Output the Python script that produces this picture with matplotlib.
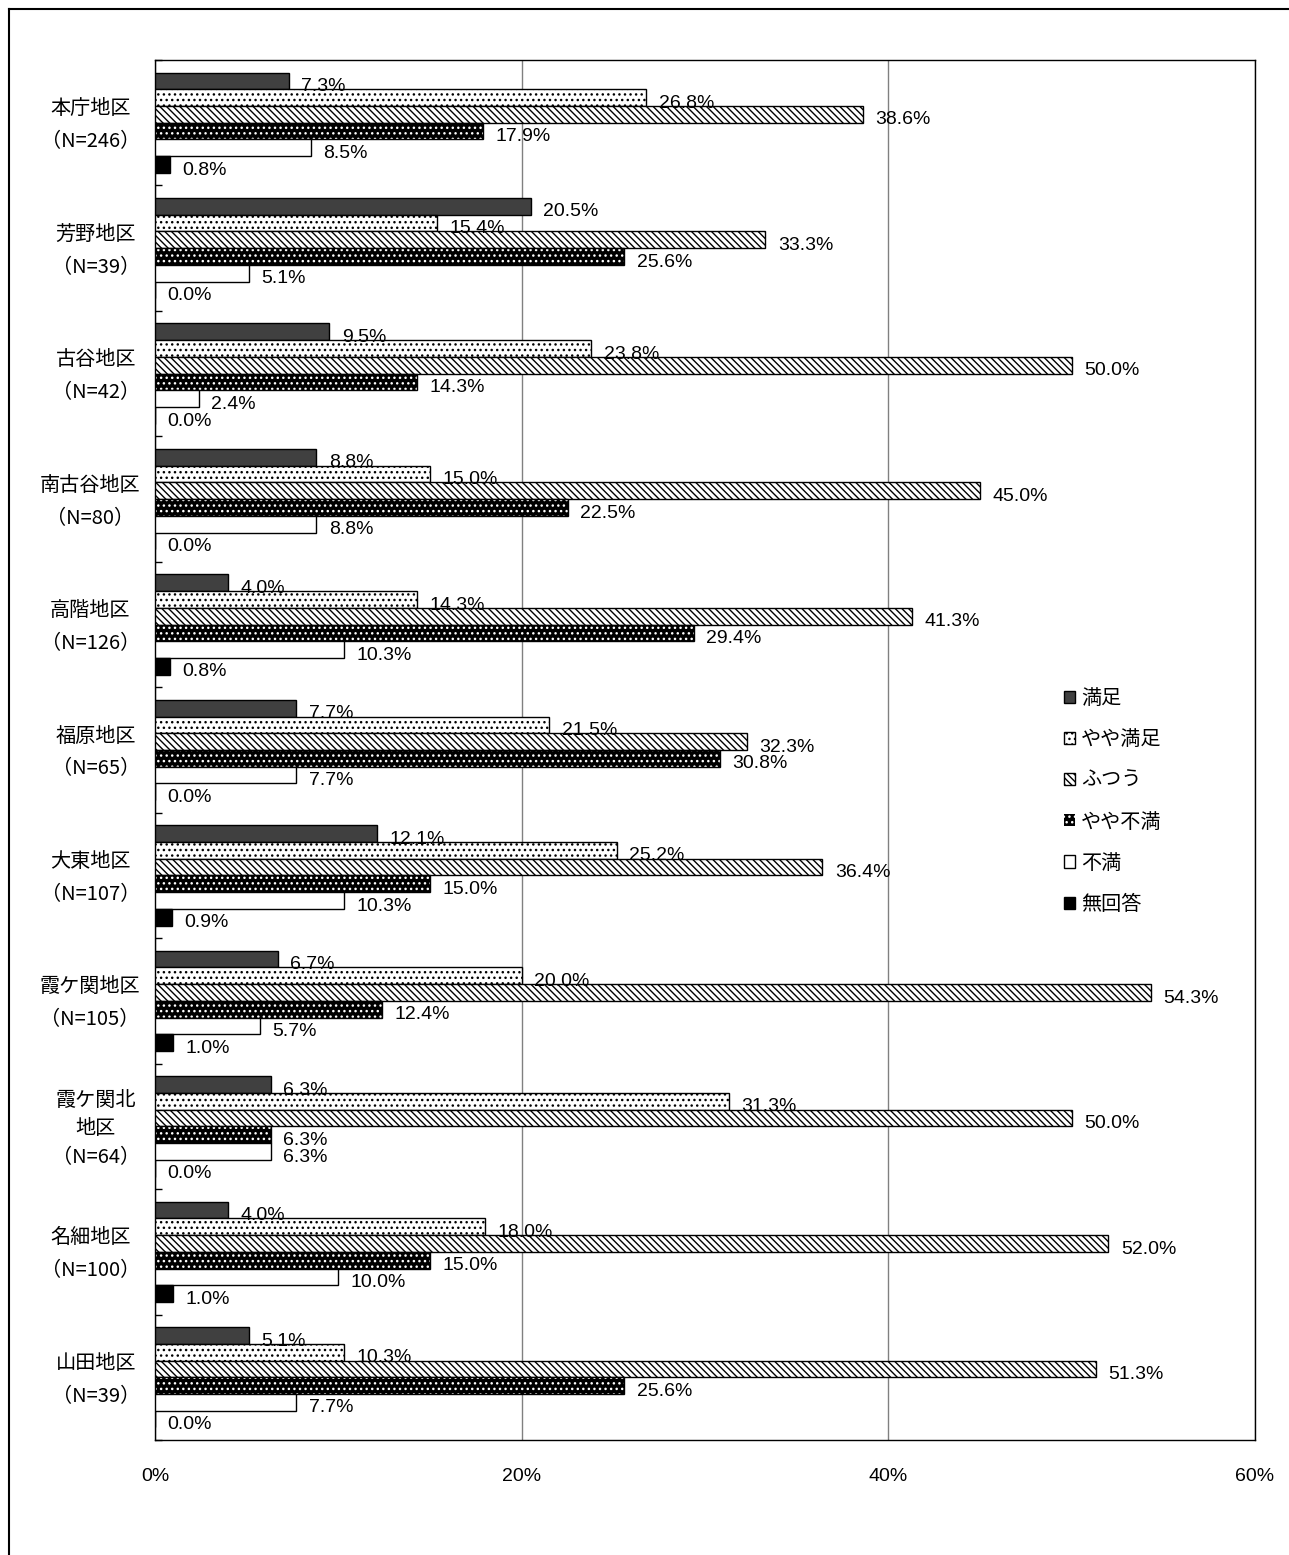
import numpy as np
import matplotlib
matplotlib.use("Agg")
import matplotlib.pyplot as plt
import matplotlib.transforms as mtransforms
from matplotlib.patches import Patch
from matplotlib.lines import Line2D

plt.rcParams['font.family'] = ['Liberation Sans', 'Noto Sans CJK JP', 'DejaVu Sans']
plt.rcParams['hatch.linewidth'] = 1.0

districts = ["本庁地区\n（N=246）", "芳野地区\n（N=39）", "古谷地区\n（N=42）",
             "南古谷地区\n（N=80）", "高階地区\n（N=126）", "福原地区\n（N=65）",
             "大東地区\n（N=107）", "霞ケ関地区\n（N=105）", "霞ケ関北\n地区\n（N=64）",
             "名細地区\n（N=100）", "山田地区\n（N=39）"]
answers = ["満足", "やや満足", "ふつう", "やや不満", "不満", "無回答"]

manzoku = [7.3, 20.5, 9.5, 8.8, 4.0, 7.7, 12.1, 6.7, 6.3, 4.0, 5.1]
yaya_manzoku = [26.8, 15.4, 23.8, 15.0, 14.3, 21.5, 25.2, 20.0, 31.3, 18.0, 10.3]
futsuu = [38.6, 33.3, 50.0, 45.0, 41.3, 32.3, 36.4, 54.3, 50.0, 52.0, 51.3]
yaya_fuman = [17.9, 25.6, 14.3, 22.5, 29.4, 30.8, 15.0, 12.4, 6.3, 15.0, 25.6]
fuman = [8.5, 5.1, 2.4, 8.8, 10.3, 7.7, 10.3, 5.7, 6.3, 10.0, 7.7]
mukaitou = [0.8, 0.0, 0.0, 0.0, 0.8, 0.0, 0.9, 1.0, 0.0, 1.0, 0.0]

series = [manzoku, yaya_manzoku, futsuu, yaya_fuman, fuman, mukaitou]
styles = [
    dict(facecolor="#404040", edgecolor="black", hatch=None),
    dict(facecolor="white", edgecolor="black", hatch="..."),
    dict(facecolor="white", edgecolor="black", hatch="\\\\\\\\\\"),
    dict(facecolor="black", edgecolor="white", hatch="..."),
    dict(facecolor="white", edgecolor="black", hatch=None),
    dict(facecolor="black", edgecolor="black", hatch=None),
]

fig = plt.figure(figsize=(12.89, 15.55), dpi=100)
ax = fig.add_axes([155 / 1289, 1 - 1440 / 1555, 1100 / 1289, 1380 / 1555])

n = len(districts)
bar_h = 0.8 / 6
base = np.arange(n)
for j, (vals, st) in enumerate(zip(series, styles)):
    y = base + 0.1 + (j + 0.5) * bar_h
    if j == 3:
        # black bar with white dots
        ax.barh(y, vals, height=bar_h, color=st["facecolor"], edgecolor="white",
                hatch=st["hatch"], linewidth=0, zorder=3)
        ax.barh(y, vals, height=bar_h, color="none", edgecolor="black",
                linewidth=1, zorder=3)
    else:
        ax.barh(y, vals, height=bar_h, color=st["facecolor"], edgecolor=st["edgecolor"],
                hatch=st["hatch"], linewidth=1, zorder=3)
    for yy, v in zip(y, vals):
        ax.annotate(f"{v:.1f}%", (v, yy), xytext=(9, -4), textcoords="offset points",
                    ha="left", va="center", fontsize=14, zorder=4)

ax.set_xlim(0, 60)
ax.set_ylim(n, 0)
ax.set_xticks([0, 20, 40, 60])
ax.set_xticklabels(["0%", "20%", "40%", "60%"], fontsize=14)
ax.tick_params(axis="x", length=0, pad=20)
ax.set_yticks(np.arange(n + 1))
ax.set_yticklabels([])
ax.tick_params(axis="y", direction="in", length=5, width=1)
ax.grid(axis="x", color="#808080", linewidth=1, zorder=0)
for s in ax.spines.values():
    s.set_linewidth(1)
    s.set_color("black")

trans = mtransforms.blended_transform_factory(fig.transFigure, ax.transData)
for i, lab in enumerate(districts):
    ls = 1.75 if lab.count("\n") == 1 else 1.45
    ax.text(140 / 1289, i + 0.52, lab, transform=trans, ha="right", va="center",
            multialignment="center", fontsize=14.5, linespacing=ls,
            family=["Noto Sans CJK JP", "DejaVu Sans"])

handles = [Patch(facecolor=st["facecolor"], edgecolor=st["edgecolor"] if k != 3 else "white",
                 hatch=st["hatch"], linewidth=1 if k != 3 else 0, label=a)
           for k, (st, a) in enumerate(zip(styles, answers))]
fig.legend(handles=handles, loc="upper left", bbox_to_anchor=(1046 / 1289, 1 - 670 / 1555),
           frameon=False, handlelength=0.55, handleheight=0.55, handletextpad=0.3,
           labelspacing=1.0, prop={"family": ["Noto Sans CJK JP"], "size": 14.5})

# outer frame (only top and left edges visible)
fig.add_artist(Line2D([9 / 1289, 1.0], [1 - 9 / 1555, 1 - 9 / 1555],
                      transform=fig.transFigure, color="black", linewidth=1.5))
fig.add_artist(Line2D([9 / 1289, 9 / 1289], [0.0, 1 - 9 / 1555],
                      transform=fig.transFigure, color="black", linewidth=1.5))

fig.savefig("out.png", dpi=100)
